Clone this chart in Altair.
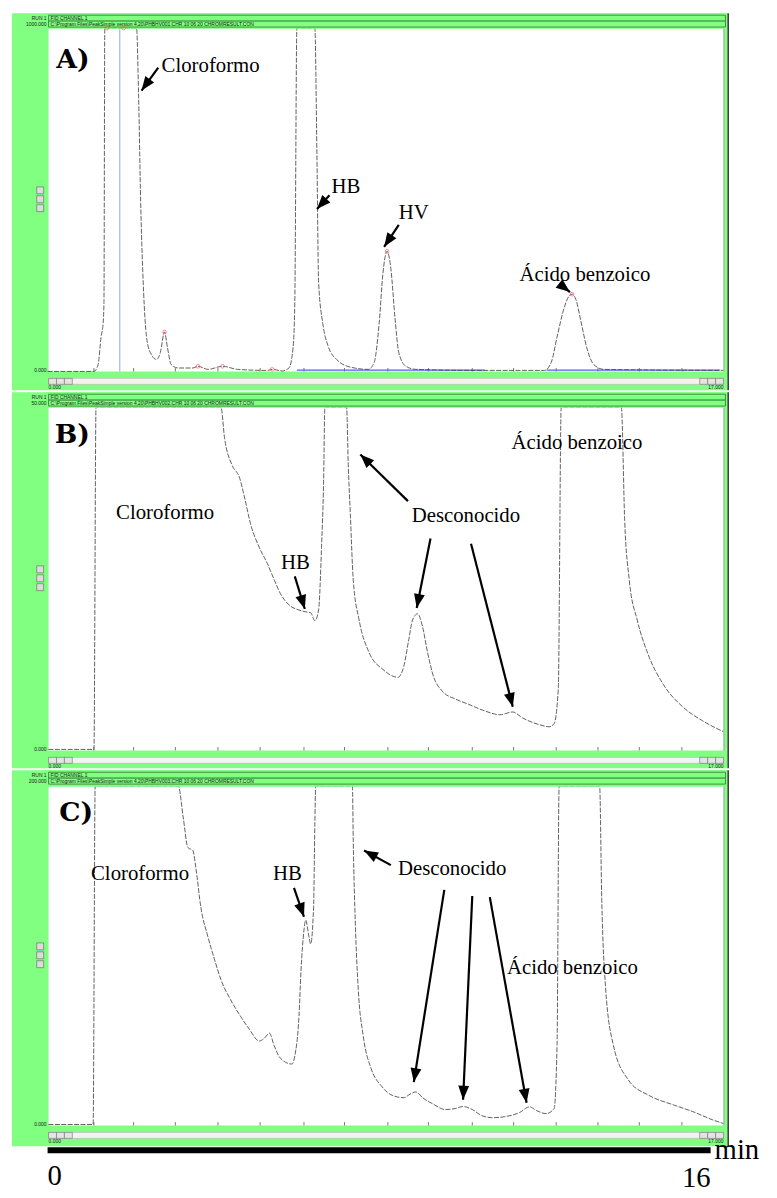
import math
import altair as alt
import pandas as pd

# ---------------- DATA (time in min, signal in % of full scale) ----------------
# Panel A trace
tA = [0.0, 1.11, 1.21, 1.28, 1.33, 1.35, 1.37, 2.13, 2.18, 2.23, 2.30, 2.37, 2.46, 2.61, 2.70,
      2.80, 2.87, 2.96, 3.13, 3.48, 3.60, 3.84, 4.19, 4.55, 5.26, 5.38, 5.62, 5.78, 5.88, 5.92,
      5.97, 6.40, 6.45, 6.49, 6.59, 6.73, 6.92, 7.27, 7.68, 7.82, 7.94, 8.03, 8.13, 8.22, 8.32,
      8.41, 8.58, 8.82, 10.24, 11.90, 12.06, 12.20, 12.37, 12.49, 12.56, 12.65, 12.77, 12.91,
      13.08, 13.32, 16.18]
sA = [0, 0, 2, 10, 14, 20, 100, 100, 80, 49, 23, 10, 5.5, 3.5, 5.5,
      11.5, 7, 2, 1, 1, 1.5, 0.6, 1.5, 0.6, 0.3, 0.6, 0.15, 1, 7, 20,
      100, 100, 63, 26, 14, 7, 3.5, 1.2, 0.6, 2.6, 14, 28.5, 35, 30, 15.5,
      5.5, 1.5, 0.6, 0.3, 0.3, 2.6, 10, 18.5, 22, 22.5, 21, 14.7, 7,
      2, 0.6, 0.3]

# Panel B trace
tB = [0.02, 1.11, 1.16, 4.15, 4.24, 4.41, 4.60, 4.72, 4.86, 5.07, 5.26, 5.43, 5.57, 5.78,
      6.02, 6.21, 6.30, 6.40, 6.49, 6.56, 6.61, 6.64, 7.16, 7.20, 7.25, 7.32, 7.46, 7.70,
      8.03, 8.39, 8.53, 8.65, 8.74, 8.86, 8.98, 9.10, 9.24, 9.45, 9.76, 10.07, 10.47, 10.83,
      11.14, 11.37, 11.78, 12.01, 12.13, 12.23, 12.30, 13.74, 13.82, 13.93, 14.12, 14.38,
      14.74, 15.21, 15.69, 16.18]
sB = [0.3, 0.3, 100, 100, 90.8, 83.3, 79.3, 73.5, 66, 59.1, 54.5, 49.6, 45.8, 42.4,
      40.9, 40.3, 40.1, 37.8, 40.9, 59.1, 78.4, 100, 100, 83.3, 68.9, 49.6, 38, 28.5,
      23.6, 21.3, 24.5, 32.3, 38, 39.8, 36, 28.5, 21.6, 17.3, 15, 13.5, 11.5, 10.4,
      11.2, 9.5, 7.5, 6.9, 7.8, 17.9, 100, 100, 66.9, 49.6, 38, 28,
      19.3, 12.7, 8.6, 5.5]

# Panel C trace
tC = [0.02, 1.09, 1.14, 3.13, 3.25, 3.36, 3.48, 3.55, 3.67, 3.84, 4.00, 4.15, 4.38, 4.62,
      4.83, 5.07, 5.19, 5.31, 5.43, 5.57, 5.85, 5.92, 6.02, 6.07, 6.14, 6.18, 6.26, 6.30,
      6.37, 6.40, 6.42, 7.30, 7.32, 7.37, 7.44, 7.56, 7.75, 7.99, 8.27, 8.53, 8.70, 8.82,
      8.98, 9.22, 9.53, 9.76, 9.95, 10.17, 10.40, 10.64, 10.95, 11.30, 11.54, 11.71, 11.94,
      12.13, 12.20, 12.25, 13.22, 13.27, 13.36, 13.55, 13.91, 14.38, 14.98, 15.45, 15.92, 16.18]
sC = [0.3, 0.3, 100, 100, 90.6, 81.9, 81.0, 76.0, 64.3, 55.6, 48.8, 43.0, 37.1, 32.2,
      28.4, 24.9, 25.7, 27.2, 23.4, 19.9, 18.1, 20.5, 32.2, 45.9, 57.6, 60.5, 55.6, 53.5,
      64.3, 88.6, 100, 100, 83.9, 59.4, 40.1, 26.3, 16.7, 11.7, 8.8, 8.2, 9.4, 9.9,
      8.2, 6.4, 4.7, 5.0, 5.6, 4.7, 2.9, 2.3, 2.6, 3.8, 5.5, 4.4, 3.5,
      5.0, 23.6, 100, 100, 67, 41, 23.6, 13.4, 9, 6.1, 4.1, 1.7, 0.6]

# integration marks of panel A
redA_t = [1.42, 1.82, 2.80, 3.60, 4.19, 5.38, 8.13, 12.56]
redA_s = [100, 100, 11.5, 1.5, 1.5, 0.6, 35, 22.5]
blueA_vline_t = [1.73]
blueA_base_t0 = [5.97, 11.95]
blueA_base_t1 = [10.47, 16.10]

# x tick marks (min)
tick_t = [1.11, 2.06, 3.06, 4.08, 5.09, 6.14, 7.11, 8.15, 9.12, 10.17, 11.16, 12.18,
          13.18, 14.17, 15.19]

# panel letters
letters = ["A)", "B)", "C)"]
letter_t = [0.21, 0.17, 0.28]
letter_s = [90.8, 91.9, 92.1]

# annotation texts
A_txt = ["Cloroformo", "HB", "HV", "Ácido benzoico"]
A_txt_t = [2.73, 6.80, 8.41, 11.30]
A_txt_s = [89.0, 53.6, 46.1, 28.0]
B_txt = ["Cloroformo", "HB", "Desconocido", "Ácido benzoico"]
B_txt_t = [1.64, 5.59, 8.72, 11.11]
B_txt_s = [69.2, 54.5, 68.3, 89.6]
C_txt = ["Cloroformo", "HB", "Desconocido", "Ácido benzoico"]
C_txt_t = [1.04, 5.40, 8.39, 11.00]
C_txt_s = [74.1, 74.1, 75.5, 46.4]

# arrows: tail (t0, s0) -> tip (t1, s1)
A_arr_t0 = [2.65, 6.75, 8.41, 12.30]
A_arr_s0 = [88.5, 51.3, 42.7, 25.1]
A_arr_t1 = [2.25, 6.45, 8.06, 12.51]
A_arr_s1 = [81.8, 47.3, 36.3, 23.1]
B_arr_t0 = [5.92, 8.63, 9.17, 10.14]
B_arr_s0 = [50.7, 72.6, 61.7, 60.2]
B_arr_t1 = [6.16, 7.49, 8.84, 11.14]
B_arr_s1 = [41.2, 86.2, 41.5, 12.7]
C_arr_t0 = [5.90, 8.22, 9.50, 10.17, 10.59]
C_arr_s0 = [70.0, 76.7, 69.4, 67.6, 67.3]
C_arr_t1 = [6.14, 7.58, 8.77, 9.95, 11.47]
C_arr_s1 = [61.5, 81.0, 12.8, 7.6, 6.7]

# instrument header strings
hdr_run = ["RUN 1", "RUN 1", "RUN 1"]
hdr_chan = ["FID CHANNEL 1", "FID CHANNEL 1", "FID CHANNEL 1"]
hdr_full = ["1000.000", "50.000", "200.000"]
hdr_file = [
    "C:\\Program Files\\PeakSimple version 4.20\\PHBHV001.CHR  10 06 20  CHROMRESULT.CON",
    "C:\\Program Files\\PeakSimple version 4.20\\PHBHV002.CHR  10 06 20  CHROMRESULT.CON",
    "C:\\Program Files\\PeakSimple version 4.20\\PHBHV003.CHR  10 06 20  CHROMRESULT.CON",
]
axis_lo = "0.000"
axis_hi = "17.000"

# scale bar
bar_t = [0, 16]
bar_labels = ["0", "16"]
bar_unit = "min"

# ---------------- LAYOUT / STYLE ----------------
OFF = 8
W, H = 769, 1190
GREEN = "#80ff80"
DKGREEN = "#3f8f3f"
LAYOUT = [
    dict(top=7, ptop=22, base=369, bottom=388),
    dict(top=390, ptop=405, base=752, bottom=770),
    dict(top=772, ptop=788, base=1131, bottom=1152),
]
XDOM = [0, 16.2]
XRANGE = [48 - OFF, 731.6 - OFF]
SERIF = "Liberation Serif"
HEAD = "M0,0L-0.45,1.15L0.45,1.15Z"

# ---------------- decoration (instrument window frame) ----------------
rects_base, rects_over = [], []


def add_rect(lst, x0, x1, y0, y1, fill, stroke="transparent", sw=0.0):
    lst.append(dict(x=x0 - OFF, x2=x1 - OFF, y=y0 - OFF, y2=y1 - OFF,
                    fill=fill, stroke=stroke, sw=sw))


tiny = []


def add_tiny(x, y, text, align):
    tiny.append(dict(x=x - OFF, y=y - OFF, text=text, align=align))


for i, lay in enumerate(LAYOUT):
    top, ptop, base, bottom = lay["top"], lay["ptop"], lay["base"], lay["bottom"]
    add_rect(rects_base, 12, 735, top, bottom, GREEN)
    add_rect(rects_base, 49, 731, ptop, base, "white")
    add_rect(rects_base, 731, 732, ptop, base, "#a8a8a8")
    mid = (ptop + base) / 2
    for k in (-13, -4, 5):
        add_rect(rects_base, 37, 44, mid + k, mid + k + 7, "#dcdcdc", "#606060", 0.6)
    # drawn above the trace: header band hides the saturated tops
    add_rect(rects_over, 45, 735, top, ptop + 0.8, GREEN)
    add_rect(rects_over, 49, 733, top + 2, top + 8, GREEN, DKGREEN, 1)
    add_rect(rects_over, 49, 733, top + 8, top + 14, GREEN, DKGREEN, 1)
    add_rect(rects_over, 45, 735, base + 0.6, base + 6, GREEN)
    add_rect(rects_over, 49, 731, base + 7, base + 13, "#f3f3f3", "#b8b8b8", 0.6)
    for k in range(3):
        add_rect(rects_over, 49 + 8 * k, 57 + 8 * k, base + 7, base + 13, "#e4e4e4", "#707070", 0.6)
        add_rect(rects_over, 707 + 8 * k, 715 + 8 * k, base + 7, base + 13, "#e4e4e4", "#707070", 0.6)
    add_rect(rects_over, 735, 736.5, top, bottom, "#303030")
    add_tiny(47, top + 5, hdr_run[i], "right")
    add_tiny(51, top + 5, hdr_chan[i], "left")
    add_tiny(47, top + 11, hdr_full[i], "right")
    add_tiny(51, top + 11, hdr_file[i], "left")
    add_tiny(47, base - 1, axis_lo, "right")
    add_tiny(49, base + 16, axis_lo, "left")
    add_tiny(731, base + 16, axis_hi, "right")


def rect_layer(rows):
    return alt.Chart(pd.DataFrame(rows)).mark_rect().encode(
        x=alt.X("x:Q", scale=None, axis=None), x2="x2:Q",
        y=alt.Y("y:Q", scale=None, axis=None), y2="y2:Q",
        fill=alt.Fill("fill:N", scale=None), stroke=alt.Stroke("stroke:N", scale=None),
        strokeWidth=alt.StrokeWidth("sw:Q", scale=None),
    )


layers = [rect_layer(rects_base)]
over_layers = [rect_layer(rects_over)]

tiny_df = pd.DataFrame(tiny)
for al in ("left", "right"):
    over_layers.append(
        alt.Chart(tiny_df[tiny_df["align"] == al]).mark_text(
            font="Liberation Sans", fontSize=5, align=al, baseline="middle", color="#1a1a1a"
        ).encode(x=alt.X("x:Q", scale=None, axis=None), y=alt.Y("y:Q", scale=None, axis=None),
                 text="text:N")
    )

# ---------------- panels ----------------
traces = [(tA, sA), (tB, sB), (tC, sC)]
texts = [(A_txt, A_txt_t, A_txt_s), (B_txt, B_txt_t, B_txt_s), (C_txt, C_txt_t, C_txt_s)]
arrows = [(A_arr_t0, A_arr_s0, A_arr_t1, A_arr_s1),
          (B_arr_t0, B_arr_s0, B_arr_t1, B_arr_s1),
          (C_arr_t0, C_arr_s0, C_arr_t1, C_arr_s1)]

annot_layers = []
for i, lay in enumerate(LAYOUT):
    xs = alt.Scale(domain=XDOM, range=XRANGE, nice=False, zero=False)
    ys = alt.Scale(domain=[0, 100], range=[lay["base"] - OFF, lay["ptop"] - OFF],
                   nice=False, zero=False)

    def X(f):
        return alt.X(f, type="quantitative", scale=xs, axis=None)

    def Y(f):
        return alt.Y(f, type="quantitative", scale=ys, axis=None)

    # tick marks
    tk = pd.DataFrame({"t": tick_t, "s0": [0] * len(tick_t), "s1": [1.0] * len(tick_t)})
    layers.append(alt.Chart(tk).mark_rule(color="#555555", strokeWidth=0.8).encode(
        x=X("t"), y=Y("s0"), y2="s1"))

    if i == 0:
        bv = pd.DataFrame({"t": blueA_vline_t, "s0": [0], "s1": [100]})
        layers.append(alt.Chart(bv).mark_rule(color="#9a9aff", strokeWidth=1).encode(
            x=X("t"), y=Y("s0"), y2="s1"))
        bb = pd.DataFrame({"t0": blueA_base_t0, "t1": blueA_base_t1,
                           "s": [0.4] * len(blueA_base_t0)})
        layers.append(alt.Chart(bb).mark_rule(color="#5a5aff", strokeWidth=1.2).encode(
            x=X("t0"), x2="t1", y=Y("s")))

    t, s = traces[i]
    tr = pd.DataFrame({"t": t, "s": s, "o": list(range(len(t)))})
    layers.append(alt.Chart(tr).mark_line(
        interpolate="monotone", color="#444444", strokeWidth=0.85, strokeDash=[5, 1.5]
    ).encode(x=X("t"), y=Y("s"), order="o:Q"))

    if i == 0:
        rd = pd.DataFrame({"t": redA_t, "s": redA_s})
        annot_layers.append(alt.Chart(rd).mark_point(
            shape="circle", size=14, color="#ff5050", strokeWidth=0.9, filled=False
        ).encode(x=X("t"), y=Y("s")))

    # arrows
    a_t0, a_s0, a_t1, a_s1 = arrows[i]
    kx = (XRANGE[1] - XRANGE[0]) / (XDOM[1] - XDOM[0])
    ky = (lay["base"] - lay["ptop"]) / 100.0
    angs = []
    for t0, s0, t1, s1 in zip(a_t0, a_s0, a_t1, a_s1):
        dx = (t1 - t0) * kx
        dy = -(s1 - s0) * ky
        angs.append(math.degrees(math.atan2(dx, -dy)) % 360)
    ar = pd.DataFrame({"t0": a_t0, "s0": a_s0, "t1": a_t1, "s1": a_s1, "ang": angs})
    annot_layers.append(alt.Chart(ar).mark_rule(color="black", strokeWidth=2.2).encode(
        x=X("t0"), y=Y("s0"), x2="t1", y2="s1"))
    annot_layers.append(alt.Chart(ar).mark_point(
        shape=HEAD, filled=True, color="black", size=600, opacity=1
    ).encode(x=X("t1"), y=Y("s1"), angle=alt.Angle("ang:Q", scale=None)))

    # texts
    lab, lt, ls = texts[i]
    tx = pd.DataFrame({"label": lab, "t": lt, "s": ls})
    annot_layers.append(alt.Chart(tx).mark_text(
        font=SERIF, fontSize=21, align="left", baseline="middle", color="black"
    ).encode(x=X("t"), y=Y("s"), text="label:N"))

    lt_df = pd.DataFrame({"label": [letters[i]], "t": [letter_t[i]], "s": [letter_s[i]]})
    annot_layers.append(alt.Chart(lt_df).mark_text(
        font="DejaVu Serif", fontSize=27, fontWeight="bold", align="left",
        baseline="middle", color="black"
    ).encode(x=X("t"), y=Y("s"), text="label:N"))

layers = layers + over_layers + annot_layers

# ---------------- scale bar ----------------
bs = alt.Scale(domain=[0, 16], range=[48 - OFF, 718 - OFF], nice=False, zero=False)
bar_df = pd.DataFrame({"a": [bar_t[0]], "b": [bar_t[1]]})
layers.append(alt.Chart(bar_df).mark_rect(color="black").encode(
    x=alt.X("a:Q", scale=bs, axis=None), x2="b:Q",
    y=alt.value(1153 - OFF), y2=alt.value(1159 - OFF)))
lab_df = pd.DataFrame({"t": bar_t, "label": bar_labels})
layers.append(alt.Chart(lab_df.iloc[[0]]).mark_text(
    font=SERIF, fontSize=29, align="left", baseline="alphabetic", color="black"
).encode(x=alt.X("t:Q", scale=bs, axis=None), y=alt.value(1191 - OFF), text="label:N"))
layers.append(alt.Chart(lab_df.iloc[[1]]).mark_text(
    font=SERIF, fontSize=29, align="right", baseline="alphabetic", color="black"
).encode(x=alt.X("t:Q", scale=bs, axis=None), y=alt.value(1193 - OFF), text="label:N"))
unit_df = pd.DataFrame({"t": [bar_t[1]], "label": [bar_unit]})
layers.append(alt.Chart(unit_df).mark_text(
    font=SERIF, fontSize=29, align="left", baseline="alphabetic", color="black", dx=4
).encode(x=alt.X("t:Q", scale=bs, axis=None), y=alt.value(1165 - OFF), text="label:N"))

chart = alt.layer(*layers).resolve_scale(
    x="independent", y="independent"
).properties(
    width=W, height=H, autosize=alt.AutoSizeParams(type="none"), padding=0,
    background="white"
).configure_view(strokeWidth=0)

chart.save("out.html", embed_options={"renderer": "svg", "actions": False})
